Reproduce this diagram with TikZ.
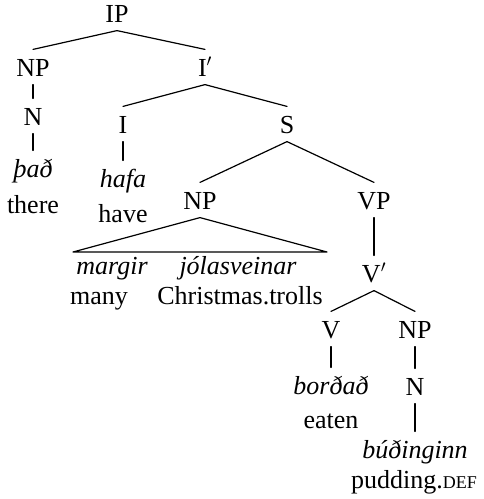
\documentclass[tikz,border=0pt]{standalone}
\usepackage{fontspec}
\setmainfont{Liberation Serif}
\usetikzlibrary{positioning}
\tikzset{
  cat/.style={anchor=base,inner xsep=0pt,inner ysep=8pt,text height=18pt,text depth=0pt,font=\fontsize{26}{30}\selectfont},
  wd/.style={cat,font=\fontsize{26}{30}\selectfont\itshape},
  gl/.style={cat}
}
\begin{document}
\begin{tikzpicture}[x=1pt,y=-1pt,line join=round,line cap=round,line width=1.2pt]
		\useasboundingbox (0,0) rectangle (483,499);
		\node[cat] (IP) at (117,22) {IP};
		\node[cat] (NPa) at (33,76) {NP};
		\node[cat] (Ibar) at (205,76) {I$'$};
		\node[cat] (Na) at (33,125) {N};
		\node[wd] (thad) at (33,177) {það};
		\node[gl] (there) at (33,213) {there};
		\node[cat] (I) at (123,133) {I};
		\node[cat] (S) at (287,133) {S};
		\node[wd] (hafa) at (123,187) {hafa};
		\node[gl] (have) at (123,222) {have};
		\node[cat] (NPb) at (200,209) {NP};
		\node[cat] (VP) at (374,209) {VP};
		\coordinate (Tl) at (73,252);
		\coordinate (Tr) at (327,252);
		\node[wd] (margir) at (112,274) {margir};
		\node[wd] (jolas) at (238,274) {jólasveinar};
		\node[gl] (many) at (99,304) {many};
		\node[gl] (trolls) at (240,304) {Christmas.trolls};
		\node[cat] (Vbar) at (374,282) {V$'$};
		\node[cat] (V) at (331,338) {V};
		\node[cat] (NPc) at (415,338) {NP};
		\node[wd] (bordad) at (331,394) {borðað};
		\node[gl] (eaten) at (331,428) {eaten};
		\node[cat] (Nc) at (415,395) {N};
		\node[wd] (budinginn) at (415,458) {búðinginn};
		\node[gl] (pudding) at (414,488) {pudding.{\fontsize{18}{20}\selectfont DEF}};
		\foreach \a/\b in {IP/NPa,IP/Ibar,NPa/Na,Na/thad,Ibar/I,Ibar/S,I/hafa,S/NPb,S/VP,VP/Vbar,Vbar/V,Vbar/NPc,V/bordad,NPc/Nc,Nc/budinginn}{\draw (\a.south)--(\b.north);}
		\draw (NPb.south)--(Tl)--(Tr)--cycle;
		\end{tikzpicture}
\end{document}
